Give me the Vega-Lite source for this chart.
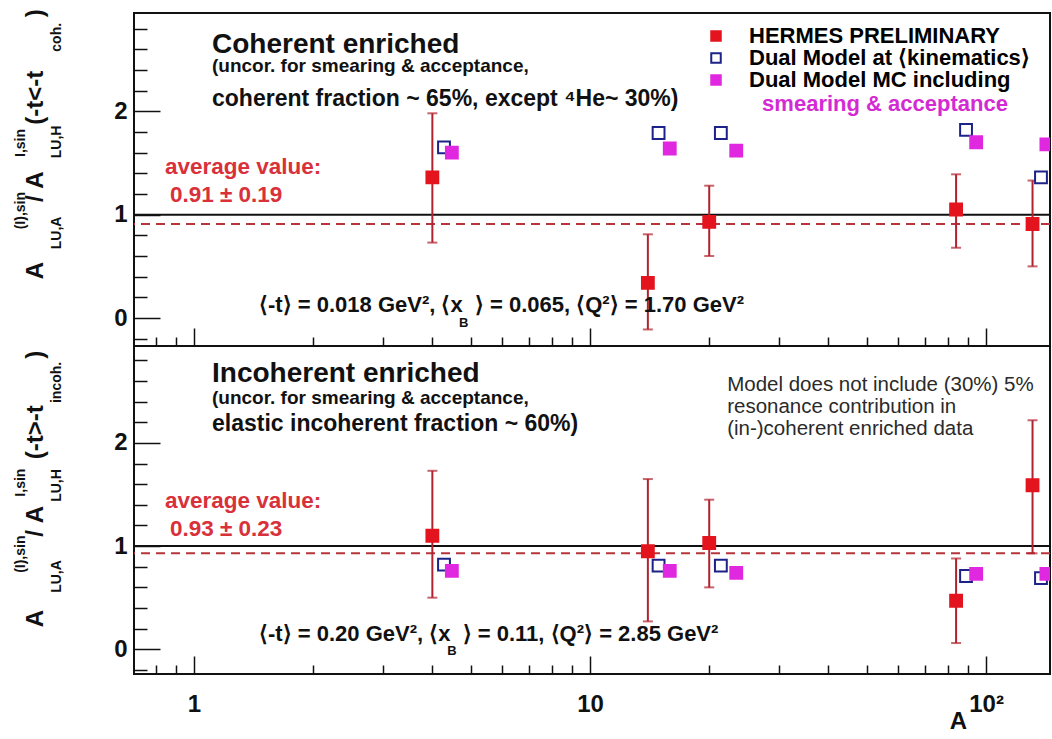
{
  "$schema": "https://vega.github.io/schema/vega-lite/v6.json",
  "background": "white",
  "padding": {"left": 12, "top": 8, "right": 0, "bottom": 0},
  "config": {
    "font": "Liberation Sans",
    "view": {"stroke": "#111", "strokeWidth": 2},
    "axis": {"domain": false, "grid": false}
  },
  "datasets": {
    "points": [
      {"panel": "coh", "series": "HERMES PRELIMINARY", "A": 4, "value": 1.36, "lo": 0.73, "hi": 1.98},
      {"panel": "coh", "series": "HERMES PRELIMINARY", "A": 14, "value": 0.34, "lo": -0.11, "hi": 0.81},
      {"panel": "coh", "series": "HERMES PRELIMINARY", "A": 20, "value": 0.93, "lo": 0.60, "hi": 1.28},
      {"panel": "coh", "series": "HERMES PRELIMINARY", "A": 84, "value": 1.05, "lo": 0.68, "hi": 1.39},
      {"panel": "coh", "series": "HERMES PRELIMINARY", "A": 131, "value": 0.91, "lo": 0.50, "hi": 1.33},
      {"panel": "coh", "series": "Dual Model at ⟨kinematics⟩", "A": 4.28, "value": 1.65},
      {"panel": "coh", "series": "Dual Model at ⟨kinematics⟩", "A": 14.9, "value": 1.79},
      {"panel": "coh", "series": "Dual Model at ⟨kinematics⟩", "A": 21.4, "value": 1.79},
      {"panel": "coh", "series": "Dual Model at ⟨kinematics⟩", "A": 89, "value": 1.82},
      {"panel": "coh", "series": "Dual Model at ⟨kinematics⟩", "A": 137.6, "value": 1.36},
      {"panel": "coh", "series": "Dual Model MC including", "A": 4.48, "value": 1.60},
      {"panel": "coh", "series": "Dual Model MC including", "A": 15.9, "value": 1.64},
      {"panel": "coh", "series": "Dual Model MC including", "A": 23.4, "value": 1.62},
      {"panel": "coh", "series": "Dual Model MC including", "A": 94.4, "value": 1.70},
      {"panel": "coh", "series": "Dual Model MC including", "A": 142, "value": 1.68},
      {"panel": "incoh", "series": "HERMES PRELIMINARY", "A": 4, "value": 1.10, "lo": 0.50, "hi": 1.73},
      {"panel": "incoh", "series": "HERMES PRELIMINARY", "A": 14, "value": 0.95, "lo": 0.27, "hi": 1.65},
      {"panel": "incoh", "series": "HERMES PRELIMINARY", "A": 20, "value": 1.03, "lo": 0.60, "hi": 1.45},
      {"panel": "incoh", "series": "HERMES PRELIMINARY", "A": 84, "value": 0.47, "lo": 0.06, "hi": 0.88},
      {"panel": "incoh", "series": "HERMES PRELIMINARY", "A": 131, "value": 1.59, "lo": 0.93, "hi": 2.22},
      {"panel": "incoh", "series": "Dual Model at ⟨kinematics⟩", "A": 4.28, "value": 0.82},
      {"panel": "incoh", "series": "Dual Model at ⟨kinematics⟩", "A": 14.9, "value": 0.81},
      {"panel": "incoh", "series": "Dual Model at ⟨kinematics⟩", "A": 21.4, "value": 0.81},
      {"panel": "incoh", "series": "Dual Model at ⟨kinematics⟩", "A": 89, "value": 0.71},
      {"panel": "incoh", "series": "Dual Model at ⟨kinematics⟩", "A": 137.6, "value": 0.69},
      {"panel": "incoh", "series": "Dual Model MC including", "A": 4.48, "value": 0.76},
      {"panel": "incoh", "series": "Dual Model MC including", "A": 15.9, "value": 0.76},
      {"panel": "incoh", "series": "Dual Model MC including", "A": 23.4, "value": 0.74},
      {"panel": "incoh", "series": "Dual Model MC including", "A": 94.4, "value": 0.73},
      {"panel": "incoh", "series": "Dual Model MC including", "A": 142, "value": 0.73}
    ],
    "lines": [
      {"panel": "coh", "kind": "ref", "y": 1},
      {"panel": "coh", "kind": "avg", "y": 0.91},
      {"panel": "incoh", "kind": "ref", "y": 1},
      {"panel": "incoh", "kind": "avg", "y": 0.93}
    ],
    "texts": [
      {"panel": "coh", "kind": "head", "A": 1.111, "v": 2.567, "text": "Coherent enriched"},
      {"panel": "coh", "kind": "sub", "A": 1.111, "v": 2.379, "text": "(uncor. for smearing & acceptance,"},
      {"panel": "coh", "kind": "sub2", "A": 1.111, "v": 2.051, "text": "coherent fraction ~ 65%, except ⁴He~ 30%)"},
      {"panel": "coh", "kind": "avg", "A": 0.845, "v": 1.393, "text": "average value:"},
      {"panel": "coh", "kind": "avg", "A": 0.870, "v": 1.122, "text": "0.91 ± 0.19"},
      {"panel": "coh", "kind": "kin", "A": 1.46, "v": 0.058, "text": "⟨-t⟩ = 0.018 GeV², ⟨x\u00a0\u00a0⟩ = 0.065, ⟨Q²⟩ = 1.70 GeV²"},
      {"panel": "coh", "kind": "idx", "A": 4.67, "v": -0.085, "text": "B"},
      {"panel": "coh", "kind": "mc", "A": 27.2, "v": 2.0, "text": "smearing & acceptance"},
      {"panel": "incoh", "kind": "head", "A": 1.111, "v": 2.591, "text": "Incoherent enriched"},
      {"panel": "incoh", "kind": "sub", "A": 1.111, "v": 2.377, "text": "(uncor. for smearing & acceptance,"},
      {"panel": "incoh", "kind": "sub2", "A": 1.111, "v": 2.12, "text": "elastic incoherent fraction ~ 60%)"},
      {"panel": "incoh", "kind": "model", "A": 22.2, "v": 2.50, "text": "Model does not include (30%) 5%"},
      {"panel": "incoh", "kind": "model", "A": 22.2, "v": 2.29, "text": "resonance contribution in"},
      {"panel": "incoh", "kind": "model", "A": 22.2, "v": 2.08, "text": "(in-)coherent enriched data"},
      {"panel": "incoh", "kind": "avg", "A": 0.845, "v": 1.369, "text": "average value:"},
      {"panel": "incoh", "kind": "avg", "A": 0.870, "v": 1.097, "text": "0.93 ± 0.23"},
      {"panel": "incoh", "kind": "kin", "A": 1.46, "v": 0.08, "text": "⟨-t⟩ = 0.20 GeV², ⟨x\u00a0\u00a0⟩ = 0.11, ⟨Q²⟩ = 2.85 GeV²"},
      {"panel": "incoh", "kind": "idx", "A": 4.36, "v": -0.06, "text": "B"}
    ]
  },
  "spacing": 0,
  "bounds": "flush",
  "resolve": {
    "scale": {"fill": "independent", "stroke": "independent"},
    "legend": {"fill": "independent", "stroke": "independent"}
  },
  "vconcat": [
    {
      "width": 916,
      "height": 333,
      "title": {
        "text": "\u200b\u00a0\u00a0\u00a0\u00a0\u00a0\u00a0\u00a0\u00a0\u00a0\u00a0\u00a0\u00a0\u00a0\u00a0\u00a0\u00a0\u00a0\u00a0\u00a0\u00a0\u00a0\u00a0\u00a0\u00a0\u00a0\u00a0\u00a0\u00a0\u00a0\u00a0(I),sin\u00a0\u00a0\u00a0\u00a0\u00a0\u00a0\u00a0\u00a0\u00a0I,sin",
        "subtitle": "\u200b\u00a0\u00a0\u00a0\u00a0\u00a0\u00a0\u00a0\u00a0\u00a0\u00a0A\u00a0\u00a0\u00a0\u00a0\u00a0\u00a0\u00a0\u00a0\u00a0/\u00a0A\u00a0\u00a0\u00a0\u00a0\u00a0\u00a0\u00a0(-t<-t\u00a0\u00a0\u00a0\u00a0\u00a0\u00a0\u00a0\u00a0)",
        "orient": "left",
        "anchor": "start",
        "frame": "group",
        "offset": 2,
        "font": "Liberation Sans",
        "subtitleFont": "Liberation Sans",
        "fontSize": 14,
        "subtitleFontSize": 24,
        "fontWeight": "bold",
        "subtitleFontWeight": "bold",
        "color": "#111",
        "subtitleColor": "#111",
        "subtitlePadding": -4
      },
      "layer": [
        {
          "data": {"name": "lines"},
          "transform": [{"filter": "datum.panel === 'coh' && datum.kind === 'ref'"}],
          "mark": {"type": "rule", "color": "#111", "strokeWidth": 2},
          "encoding": {"y": {"field": "y", "type": "quantitative", "title": "\u200b\u00a0\u00a0\u00a0\u00a0\u00a0\u00a0\u00a0\u00a0\u00a0\u00a0\u00a0\u00a0\u00a0\u00a0\u00a0\u00a0\u00a0\u00a0\u00a0\u00a0\u00a0\u00a0\u00a0\u00a0\u00a0LU,A\u00a0\u00a0\u00a0\u00a0\u00a0\u00a0\u00a0\u00a0\u00a0\u00a0\u00a0\u00a0\u00a0\u00a0\u00a0LU,H\u00a0\u00a0\u00a0\u00a0\u00a0\u00a0\u00a0\u00a0\u00a0\u00a0\u00a0\u00a0\u00a0\u00a0\u00a0\u00a0\u00a0\u00a0\u00a0coh.", "scale": {"domain": [-0.27, 2.95], "nice": false, "zero": false}}}
        },
        {
          "data": {"name": "lines"},
          "transform": [{"filter": "datum.panel === 'coh' && datum.kind === 'avg'"}],
          "mark": {"type": "rule", "color": "#b8343c", "strokeWidth": 2, "strokeDash": [9, 6]},
          "encoding": {"y": {"field": "y", "type": "quantitative", "title": "\u200b\u00a0\u00a0\u00a0\u00a0\u00a0\u00a0\u00a0\u00a0\u00a0\u00a0\u00a0\u00a0\u00a0\u00a0\u00a0\u00a0\u00a0\u00a0\u00a0\u00a0\u00a0\u00a0\u00a0\u00a0\u00a0LU,A\u00a0\u00a0\u00a0\u00a0\u00a0\u00a0\u00a0\u00a0\u00a0\u00a0\u00a0\u00a0\u00a0\u00a0\u00a0LU,H\u00a0\u00a0\u00a0\u00a0\u00a0\u00a0\u00a0\u00a0\u00a0\u00a0\u00a0\u00a0\u00a0\u00a0\u00a0\u00a0\u00a0\u00a0\u00a0coh.", "scale": {"domain": [-0.27, 2.95], "nice": false, "zero": false}}}
        },
        {
          "data": {"name": "points"},
          "transform": [{"filter": "datum.panel === 'coh' && datum.series === 'HERMES PRELIMINARY'"}],
          "mark": {"type": "errorbar", "color": "#b0222e", "thickness": 2, "ticks": {"size": 10, "thickness": 2, "color": "#b0222e"}},
          "encoding": {
            "x": {"field": "A", "type": "quantitative", "title": null, "scale": {"type": "log", "domain": [0.706, 145], "nice": false}},
            "y": {"field": "lo", "type": "quantitative", "title": "\u200b\u00a0\u00a0\u00a0\u00a0\u00a0\u00a0\u00a0\u00a0\u00a0\u00a0\u00a0\u00a0\u00a0\u00a0\u00a0\u00a0\u00a0\u00a0\u00a0\u00a0\u00a0\u00a0\u00a0\u00a0\u00a0LU,A\u00a0\u00a0\u00a0\u00a0\u00a0\u00a0\u00a0\u00a0\u00a0\u00a0\u00a0\u00a0\u00a0\u00a0\u00a0LU,H\u00a0\u00a0\u00a0\u00a0\u00a0\u00a0\u00a0\u00a0\u00a0\u00a0\u00a0\u00a0\u00a0\u00a0\u00a0\u00a0\u00a0\u00a0\u00a0coh.", "scale": {"domain": [-0.27, 2.95], "nice": false, "zero": false}},
            "y2": {"field": "hi"}
          }
        },
        {
          "data": {"name": "points"},
          "transform": [{"filter": "datum.panel === 'coh'"}],
          "mark": {"type": "square", "size": 140, "strokeWidth": 2, "opacity": 1, "clip": true},
          "encoding": {
            "x": {
              "field": "A", "type": "quantitative", "title": null,
              "scale": {"type": "log", "domain": [0.706, 145], "nice": false},
              "axis": {
                "values": [0.7, 0.8, 0.9, 1, 2, 3, 4, 5, 6, 7, 8, 9, 10, 20, 30, 40, 50, 60, 70, 80, 90, 100],
                "tickCount": 100,
                "labels": false,
                "tickSize": {"condition": {"test": "datum.value == 1 || datum.value == 10 || datum.value == 100", "value": -18}, "value": -9},
                "tickColor": "#111", "tickWidth": 1.5, "domain": false, "grid": false, "title": null
              }
            },
            "y": {
              "field": "value", "type": "quantitative",
              "title": "\u200b\u00a0\u00a0\u00a0\u00a0\u00a0\u00a0\u00a0\u00a0\u00a0\u00a0\u00a0\u00a0\u00a0\u00a0\u00a0\u00a0\u00a0\u00a0\u00a0\u00a0\u00a0\u00a0\u00a0\u00a0\u00a0LU,A\u00a0\u00a0\u00a0\u00a0\u00a0\u00a0\u00a0\u00a0\u00a0\u00a0\u00a0\u00a0\u00a0\u00a0\u00a0LU,H\u00a0\u00a0\u00a0\u00a0\u00a0\u00a0\u00a0\u00a0\u00a0\u00a0\u00a0\u00a0\u00a0\u00a0\u00a0\u00a0\u00a0\u00a0\u00a0coh.",
              "scale": {"domain": [-0.27, 2.95], "nice": false, "zero": false},
              "axis": {
                "values": [-0.2, 0, 0.2, 0.4, 0.6, 0.8, 1, 1.2, 1.4, 1.6, 1.8, 2, 2.2, 2.4, 2.6, 2.8],
                "tickCount": 100,
                "labelExpr": "datum.value == 0 ? '0' : (datum.value == 1 ? '1' : (datum.value == 2 ? '2' : ''))",
                "tickSize": {"condition": {"test": "datum.value == 0 || datum.value == 1 || datum.value == 2", "value": -26}, "value": -13},
                "labelPadding": 33, "labelFontSize": 24, "labelFontWeight": "bold", "labelFont": "Liberation Sans",
                "labelOverlap": false, "labelColor": "#111", "tickColor": "#111", "tickWidth": 1.5,
                "domain": false, "grid": false,
                "titleFontSize": 14, "titleFontWeight": "bold", "titleFont": "Liberation Sans", "titleAnchor": "start", "titlePadding": 50, "titleColor": "#111"
              }
            },
            "fill": {
              "field": "series", "type": "nominal",
              "scale": {"domain": ["HERMES PRELIMINARY", "Dual Model at ⟨kinematics⟩", "Dual Model MC including"], "range": ["#e4141e", "#ffffff", "#e028e0"]},
              "legend": {
                "title": null, "orient": "none", "legendX": 571, "legendY": 12,
                "symbolType": "square", "symbolSize": 90, "symbolStrokeWidth": 2,
                "labelFontSize": 22, "labelFont": "Liberation Sans", "labelFontWeight": "bold", "labelOffset": 22, "rowPadding": -4, "labelLimit": 400,
                "encode": {"labels": {"update": {"fill": {"signal": "datum.value === 'HERMES PRELIMINARY' ? '#d81e26' : (datum.value === 'Dual Model MC including' ? '#d42ad4' : '#1e2a9e')"}}}}
              }
            },
            "stroke": {
              "field": "series", "type": "nominal",
              "scale": {"domain": ["HERMES PRELIMINARY", "Dual Model at ⟨kinematics⟩", "Dual Model MC including"], "range": ["#e4141e", "#1c2288", "#e028e0"]},
              "legend": {
                "title": null, "orient": "none", "legendX": 571, "legendY": 12,
                "symbolType": "square", "symbolSize": 90, "symbolStrokeWidth": 2,
                "labelFontSize": 22, "labelFont": "Liberation Sans", "labelFontWeight": "bold", "labelOffset": 22, "rowPadding": -4, "labelLimit": 400,
                "encode": {"labels": {"update": {"fill": {"signal": "datum.value === 'HERMES PRELIMINARY' ? '#d81e26' : (datum.value === 'Dual Model MC including' ? '#d42ad4' : '#1e2a9e')"}}}}
              }
            }
          }
        },
        {
          "data": {"name": "texts"},
          "transform": [{"filter": "datum.panel === 'coh' && datum.kind !== 'model'"}],
          "mark": {"type": "text", "align": "left", "baseline": "alphabetic", "fontWeight": "bold", "font": "Liberation Sans"},
          "encoding": {
            "x": {"field": "A", "type": "quantitative", "title": null, "scale": {"type": "log", "domain": [0.706, 145], "nice": false}},
            "y": {"field": "v", "type": "quantitative", "title": "\u200b\u00a0\u00a0\u00a0\u00a0\u00a0\u00a0\u00a0\u00a0\u00a0\u00a0\u00a0\u00a0\u00a0\u00a0\u00a0\u00a0\u00a0\u00a0\u00a0\u00a0\u00a0\u00a0\u00a0\u00a0\u00a0LU,A\u00a0\u00a0\u00a0\u00a0\u00a0\u00a0\u00a0\u00a0\u00a0\u00a0\u00a0\u00a0\u00a0\u00a0\u00a0LU,H\u00a0\u00a0\u00a0\u00a0\u00a0\u00a0\u00a0\u00a0\u00a0\u00a0\u00a0\u00a0\u00a0\u00a0\u00a0\u00a0\u00a0\u00a0\u00a0coh.", "scale": {"domain": [-0.27, 2.95], "nice": false, "zero": false}},
            "text": {"field": "text"},
            "size": {"field": "kind", "type": "nominal", "scale": {"type": "ordinal", "domain": ["head", "sub", "sub2", "avg", "kin", "idx", "mc"], "range": [28, 19, 23, 22.5, 22, 13, 22]}, "legend": null},
            "color": {"field": "kind", "type": "nominal", "scale": {"domain": ["head", "sub", "sub2", "avg", "kin", "idx", "mc"], "range": ["#111111", "#111111", "#111111", "#d8313a", "#111111", "#111111", "#d42ad4"]}, "legend": null}
          }
        }
      ]
    },
    {
      "width": 916,
      "height": 328,
      "title": {
        "text": "\u200b\u00a0\u00a0\u00a0\u00a0\u00a0\u00a0\u00a0\u00a0\u00a0\u00a0\u00a0\u00a0\u00a0\u00a0\u00a0\u00a0\u00a0\u00a0\u00a0\u00a0\u00a0\u00a0\u00a0\u00a0\u00a0\u00a0(I),sin\u00a0\u00a0\u00a0\u00a0\u00a0\u00a0\u00a0\u00a0\u00a0\u00a0I,sin",
        "subtitle": "\u200b\u00a0\u00a0\u00a0\u00a0\u00a0\u00a0\u00a0A\u00a0\u00a0\u00a0\u00a0\u00a0\u00a0\u00a0\u00a0\u00a0\u00a0\u00a0/\u00a0A\u00a0\u00a0\u00a0\u00a0\u00a0\u00a0\u00a0(-t>-t\u00a0\u00a0\u00a0\u00a0\u00a0\u00a0\u00a0)",
        "orient": "left",
        "anchor": "start",
        "frame": "group",
        "offset": 2,
        "font": "Liberation Sans",
        "subtitleFont": "Liberation Sans",
        "fontSize": 14,
        "subtitleFontSize": 24,
        "fontWeight": "bold",
        "subtitleFontWeight": "bold",
        "color": "#111",
        "subtitleColor": "#111",
        "subtitlePadding": -4
      },
      "layer": [
        {
          "data": {"name": "lines"},
          "transform": [{"filter": "datum.panel === 'incoh' && datum.kind === 'ref'"}],
          "mark": {"type": "rule", "color": "#111", "strokeWidth": 2},
          "encoding": {"y": {"field": "y", "type": "quantitative", "title": "\u200b\u00a0\u00a0\u00a0\u00a0\u00a0\u00a0\u00a0\u00a0\u00a0\u00a0\u00a0\u00a0\u00a0\u00a0\u00a0\u00a0\u00a0\u00a0\u00a0\u00a0\u00a0LU,A\u00a0\u00a0\u00a0\u00a0\u00a0\u00a0\u00a0\u00a0\u00a0\u00a0\u00a0\u00a0\u00a0\u00a0\u00a0LU,H\u00a0\u00a0\u00a0\u00a0\u00a0\u00a0\u00a0\u00a0\u00a0\u00a0\u00a0\u00a0\u00a0\u00a0\u00a0\u00a0\u00a0incoh.", "scale": {"domain": [-0.24, 2.94], "nice": false, "zero": false}}}
        },
        {
          "data": {"name": "lines"},
          "transform": [{"filter": "datum.panel === 'incoh' && datum.kind === 'avg'"}],
          "mark": {"type": "rule", "color": "#b8343c", "strokeWidth": 2, "strokeDash": [9, 6]},
          "encoding": {"y": {"field": "y", "type": "quantitative", "title": "\u200b\u00a0\u00a0\u00a0\u00a0\u00a0\u00a0\u00a0\u00a0\u00a0\u00a0\u00a0\u00a0\u00a0\u00a0\u00a0\u00a0\u00a0\u00a0\u00a0\u00a0\u00a0LU,A\u00a0\u00a0\u00a0\u00a0\u00a0\u00a0\u00a0\u00a0\u00a0\u00a0\u00a0\u00a0\u00a0\u00a0\u00a0LU,H\u00a0\u00a0\u00a0\u00a0\u00a0\u00a0\u00a0\u00a0\u00a0\u00a0\u00a0\u00a0\u00a0\u00a0\u00a0\u00a0\u00a0incoh.", "scale": {"domain": [-0.24, 2.94], "nice": false, "zero": false}}}
        },
        {
          "data": {"name": "points"},
          "transform": [{"filter": "datum.panel === 'incoh' && datum.series === 'HERMES PRELIMINARY'"}],
          "mark": {"type": "errorbar", "color": "#b0222e", "thickness": 2, "ticks": {"size": 10, "thickness": 2, "color": "#b0222e"}},
          "encoding": {
            "x": {"field": "A", "type": "quantitative", "title": "A", "scale": {"type": "log", "domain": [0.706, 145], "nice": false}},
            "y": {"field": "lo", "type": "quantitative", "title": "\u200b\u00a0\u00a0\u00a0\u00a0\u00a0\u00a0\u00a0\u00a0\u00a0\u00a0\u00a0\u00a0\u00a0\u00a0\u00a0\u00a0\u00a0\u00a0\u00a0\u00a0\u00a0LU,A\u00a0\u00a0\u00a0\u00a0\u00a0\u00a0\u00a0\u00a0\u00a0\u00a0\u00a0\u00a0\u00a0\u00a0\u00a0LU,H\u00a0\u00a0\u00a0\u00a0\u00a0\u00a0\u00a0\u00a0\u00a0\u00a0\u00a0\u00a0\u00a0\u00a0\u00a0\u00a0\u00a0incoh.", "scale": {"domain": [-0.24, 2.94], "nice": false, "zero": false}},
            "y2": {"field": "hi"}
          }
        },
        {
          "data": {"name": "points"},
          "transform": [{"filter": "datum.panel === 'incoh'"}],
          "mark": {"type": "square", "size": 140, "strokeWidth": 2, "opacity": 1, "clip": true},
          "encoding": {
            "x": {
              "field": "A", "type": "quantitative", "title": "A",
              "scale": {"type": "log", "domain": [0.706, 145], "nice": false},
              "axis": {
                "values": [0.7, 0.8, 0.9, 1, 2, 3, 4, 5, 6, 7, 8, 9, 10, 20, 30, 40, 50, 60, 70, 80, 90, 100],
                "tickCount": 100,
                "labelExpr": "datum.value == 1 ? '1' : (datum.value == 10 ? '10' : (datum.value == 100 ? '10²' : ''))",
                "tickSize": {"condition": {"test": "datum.value == 1 || datum.value == 10 || datum.value == 100", "value": -18}, "value": -9},
                "labelPadding": 36, "labelFontSize": 24, "labelFontWeight": "bold", "labelFont": "Liberation Sans",
                "labelOverlap": false, "labelFlush": false, "labelColor": "#111",
                "tickColor": "#111", "tickWidth": 1.5, "domain": false, "grid": false,
                "titleFontSize": 24, "titleFontWeight": "bold", "titleFont": "Liberation Sans",
                "titleX": 824, "titleY": 59, "titleAlign": "center", "titleBaseline": "bottom", "titleColor": "#111"
              }
            },
            "y": {
              "field": "value", "type": "quantitative",
              "title": "\u200b\u00a0\u00a0\u00a0\u00a0\u00a0\u00a0\u00a0\u00a0\u00a0\u00a0\u00a0\u00a0\u00a0\u00a0\u00a0\u00a0\u00a0\u00a0\u00a0\u00a0\u00a0LU,A\u00a0\u00a0\u00a0\u00a0\u00a0\u00a0\u00a0\u00a0\u00a0\u00a0\u00a0\u00a0\u00a0\u00a0\u00a0LU,H\u00a0\u00a0\u00a0\u00a0\u00a0\u00a0\u00a0\u00a0\u00a0\u00a0\u00a0\u00a0\u00a0\u00a0\u00a0\u00a0\u00a0incoh.",
              "scale": {"domain": [-0.24, 2.94], "nice": false, "zero": false},
              "axis": {
                "values": [-0.2, 0, 0.2, 0.4, 0.6, 0.8, 1, 1.2, 1.4, 1.6, 1.8, 2, 2.2, 2.4, 2.6, 2.8],
                "tickCount": 100,
                "labelExpr": "datum.value == 0 ? '0' : (datum.value == 1 ? '1' : (datum.value == 2 ? '2' : ''))",
                "tickSize": {"condition": {"test": "datum.value == 0 || datum.value == 1 || datum.value == 2", "value": -26}, "value": -13},
                "labelPadding": 33, "labelFontSize": 24, "labelFontWeight": "bold", "labelFont": "Liberation Sans",
                "labelOverlap": false, "labelColor": "#111", "tickColor": "#111", "tickWidth": 1.5,
                "domain": false, "grid": false,
                "titleFontSize": 14, "titleFontWeight": "bold", "titleFont": "Liberation Sans", "titleAnchor": "start", "titlePadding": 50, "titleColor": "#111"
              }
            },
            "fill": {
              "field": "series", "type": "nominal",
              "scale": {"domain": ["HERMES PRELIMINARY", "Dual Model at ⟨kinematics⟩", "Dual Model MC including"], "range": ["#e4141e", "#ffffff", "#e028e0"]},
              "legend": null
            },
            "stroke": {
              "field": "series", "type": "nominal",
              "scale": {"domain": ["HERMES PRELIMINARY", "Dual Model at ⟨kinematics⟩", "Dual Model MC including"], "range": ["#e4141e", "#1c2288", "#e028e0"]},
              "legend": null
            }
          }
        },
        {
          "data": {"name": "texts"},
          "transform": [{"filter": "datum.panel === 'incoh' && datum.kind !== 'model'"}],
          "mark": {"type": "text", "align": "left", "baseline": "alphabetic", "fontWeight": "bold", "font": "Liberation Sans"},
          "encoding": {
            "x": {"field": "A", "type": "quantitative", "title": "A", "scale": {"type": "log", "domain": [0.706, 145], "nice": false}},
            "y": {"field": "v", "type": "quantitative", "title": "\u200b\u00a0\u00a0\u00a0\u00a0\u00a0\u00a0\u00a0\u00a0\u00a0\u00a0\u00a0\u00a0\u00a0\u00a0\u00a0\u00a0\u00a0\u00a0\u00a0\u00a0\u00a0LU,A\u00a0\u00a0\u00a0\u00a0\u00a0\u00a0\u00a0\u00a0\u00a0\u00a0\u00a0\u00a0\u00a0\u00a0\u00a0LU,H\u00a0\u00a0\u00a0\u00a0\u00a0\u00a0\u00a0\u00a0\u00a0\u00a0\u00a0\u00a0\u00a0\u00a0\u00a0\u00a0\u00a0incoh.", "scale": {"domain": [-0.24, 2.94], "nice": false, "zero": false}},
            "text": {"field": "text"},
            "size": {"field": "kind", "type": "nominal", "scale": {"type": "ordinal", "domain": ["head", "sub", "sub2", "avg", "kin", "idx", "mc"], "range": [28, 19, 23, 22.5, 22, 13, 22]}, "legend": null},
            "color": {"field": "kind", "type": "nominal", "scale": {"domain": ["head", "sub", "sub2", "avg", "kin", "idx", "mc"], "range": ["#111111", "#111111", "#111111", "#d8313a", "#111111", "#111111", "#d42ad4"]}, "legend": null}
          }
        },
        {
          "data": {"name": "texts"},
          "transform": [{"filter": "datum.panel === 'incoh' && datum.kind === 'model'"}],
          "mark": {"type": "text", "align": "left", "baseline": "alphabetic", "fontSize": 20.5, "font": "Liberation Sans", "color": "#2a2a2a"},
          "encoding": {
            "x": {"field": "A", "type": "quantitative", "title": "A", "scale": {"type": "log", "domain": [0.706, 145], "nice": false}},
            "y": {"field": "v", "type": "quantitative", "title": "\u200b\u00a0\u00a0\u00a0\u00a0\u00a0\u00a0\u00a0\u00a0\u00a0\u00a0\u00a0\u00a0\u00a0\u00a0\u00a0\u00a0\u00a0\u00a0\u00a0\u00a0\u00a0LU,A\u00a0\u00a0\u00a0\u00a0\u00a0\u00a0\u00a0\u00a0\u00a0\u00a0\u00a0\u00a0\u00a0\u00a0\u00a0LU,H\u00a0\u00a0\u00a0\u00a0\u00a0\u00a0\u00a0\u00a0\u00a0\u00a0\u00a0\u00a0\u00a0\u00a0\u00a0\u00a0\u00a0incoh.", "scale": {"domain": [-0.24, 2.94], "nice": false, "zero": false}},
            "text": {"field": "text"}
          }
        }
      ]
    }
  ]
}
